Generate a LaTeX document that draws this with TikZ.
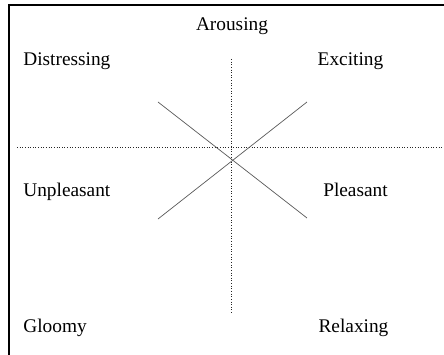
\documentclass[tikz,border=0pt]{standalone}
\usepackage{fontspec}
\setmainfont{Liberation Serif}
\usepackage{tikz}
\usetikzlibrary{positioning}

\begin{document}
\begin{tikzpicture}[
  affect/.style={font=\fontsize{11}{13}\selectfont, inner sep=0pt},
  axis/.style={densely dotted, line width=0.5pt, black!85},
  diag/.style={line width=0.4pt, black!65},
  frame/.style={line width=0.9pt}
]
\useasboundingbox (-4.62,-4.16) rectangle (4.26,2.94);

% ===== Frame (top and left edges) =====
\coordinate (fbl) at (-4.44,-4.16);
\coordinate (ftl) at (-4.44,2.84);
\coordinate (ftr) at (4.26,2.84);
\draw[frame] (fbl) -- (ftl) -- (ftr);

% ===== Axes =====
\coordinate (xl) at (-4.28,0);
\coordinate (xr) at (4.26,0);
\coordinate (yt) at (0,1.76);
\coordinate (yb) at (0,-3.32);
\draw[axis] (xl) -- (xr);
\draw[axis] (yt) -- (yb);

% ===== Diagonals =====
\coordinate (d1a) at (-1.46,0.90);
\coordinate (d1b) at (1.52,-1.42);
\coordinate (d2a) at (-1.46,-1.44);
\coordinate (d2b) at (1.52,0.90);
\draw[diag] (d1a) -- (d1b);
\draw[diag] (d2a) -- (d2b);

% ===== Labels =====
\node[affect, anchor=base] (arousing) at (0.02,2.32) {Arousing};
\node[affect, anchor=base west] (distressing) at (-4.16,1.62) {Distressing};
\node[affect, anchor=base] (exciting) at (2.39,1.62) {Exciting};
\node[affect, anchor=base west] (unpleasant) at (-4.16,-1.00) {Unpleasant};
\node[affect, anchor=base] (pleasant) at (2.49,-1.00) {Pleasant};
\node[affect, anchor=base west] (gloomy) at (-4.16,-3.72) {Gloomy};
\node[affect, anchor=base] (relaxing) at (2.45,-3.72) {Relaxing};

\end{tikzpicture}
\end{document}
